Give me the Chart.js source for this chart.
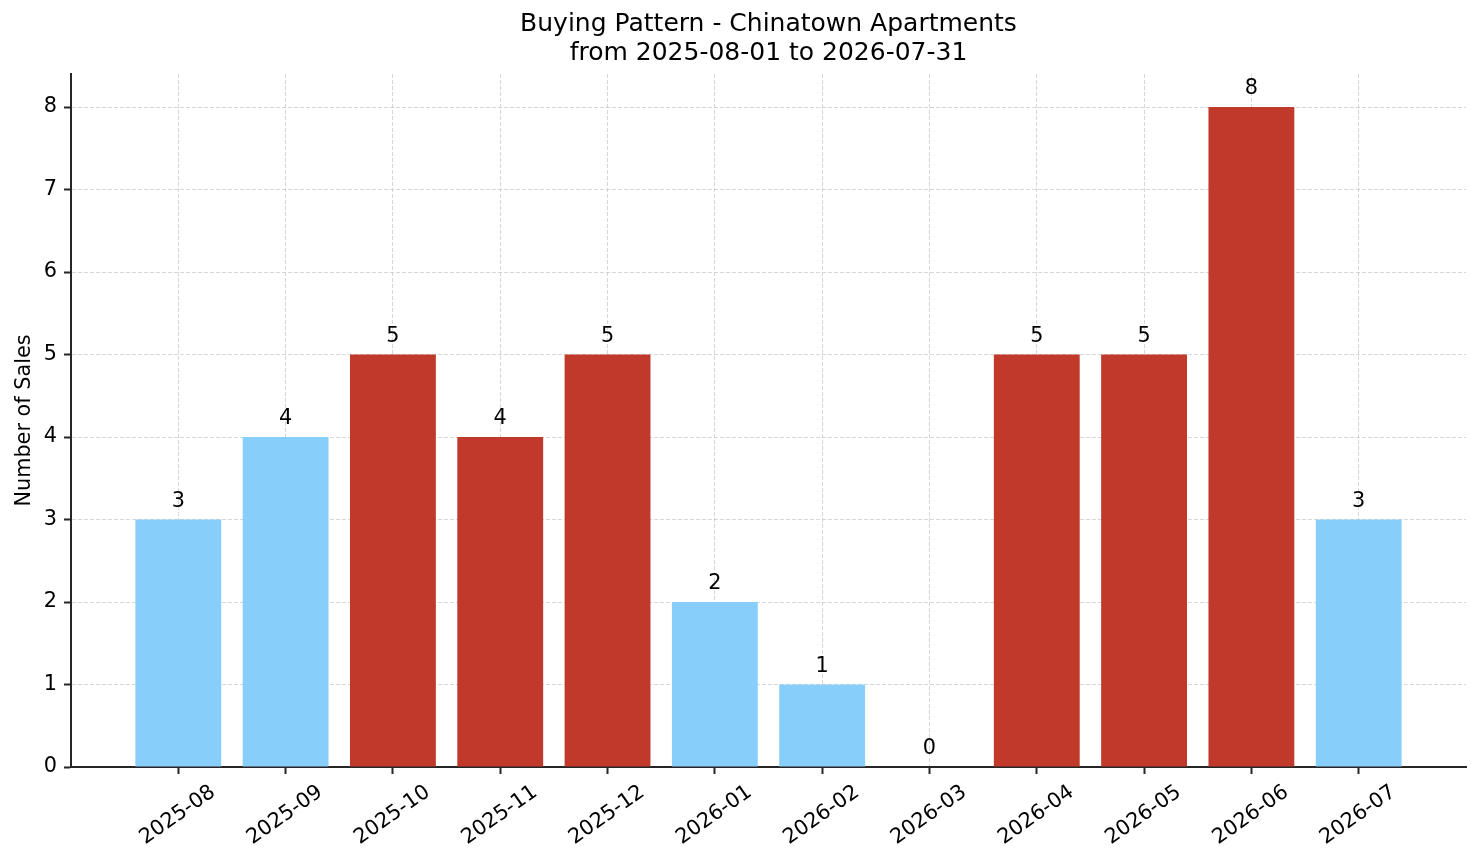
<!DOCTYPE html>
<html>
<head>
<meta charset="utf-8">
<script src="https://cdn.jsdelivr.net/npm/chart.js@4/dist/chart.umd.min.js"></script>
<style>
  html, body { margin: 0; padding: 0; background: #fff; }
  #wrap { width: 1481px; height: 863px; }
</style>
</head>
<body>
<div id="wrap"><canvas id="salesChart"></canvas></div>
<script>
const months = ['2025-08', '2025-09', '2025-10', '2025-11', '2025-12', '2026-01',
                '2026-02', '2026-03', '2026-04', '2026-05', '2026-06', '2026-07'];
const sales = [3, 4, 5, 4, 5, 2, 1, 0, 5, 5, 8, 3];
const titleLines = ['Buying Pattern - Chinatown Apartments', 'from 2025-08-01 to 2026-07-31'];

// colours per bar (red = busy month, light blue = quiet month)
const BLUE = '#87CEFA';
const RED = '#C0392B';
const barColors = [BLUE, BLUE, RED, RED, RED, BLUE, BLUE, BLUE, RED, RED, RED, BLUE];

const FONT = 'DejaVu Sans';
const AXIS = '#262626';
const GRID = 'rgba(176,176,176,0.5)';

// value printed above each bar
const barLabels = {
  id: 'barLabels',
  afterDraw(chart) {
    const ctx = chart.ctx;
    const meta = chart.getDatasetMeta(0);
    ctx.save();
    ctx.font = '20.8px "' + FONT + '"';
    ctx.fillStyle = '#000';
    ctx.textAlign = 'center';
    ctx.textBaseline = 'alphabetic';
    meta.data.forEach((bar, i) => {
      ctx.fillText(String(sales[i]), bar.x, bar.y - 13);
    });
    ctx.restore();
  }
};

const ctx = document.getElementById('salesChart').getContext('2d');
new Chart(ctx, {
  type: 'bar',
  data: {
    datasets: [
      {
        data: sales.map((v, i) => ({ x: i, y: v })),
        backgroundColor: barColors,
        borderWidth: 0,
        barPercentage: 0.8,
        categoryPercentage: 1.0,
      },
    ],
  },
  options: {
    responsive: true,
    maintainAspectRatio: false,
    animation: false,
    devicePixelRatio: 1,
    layout: { padding: { top: 0, right: 15, bottom: 0, left: 0 } },
    plugins: {
      legend: { display: false },
      tooltip: { enabled: false },
      title: {
        display: true,
        fullSize: false,
        text: titleLines,
        color: '#000',
        font: { family: FONT, size: 25, weight: 'normal', lineHeight: 1.16 },
        padding: { top: 10, bottom: 6 },
      },
    },
    scales: {
      x: {
        type: 'linear',
        min: -1,
        max: 12,
        offset: false,
        z: 1,
        afterBuildTicks(scale) {
          scale.ticks = months.map((m, i) => ({ value: i }));
        },
        afterFit(scale) { scale.height = 96; },
        grid: {
          display: true,
          offset: false,
          color: GRID,
          lineWidth: 1,
          tickColor: AXIS,
          tickWidth: 2,
          tickLength: 7,
        },
        border: { display: true, color: AXIS, width: 2, dash: [4, 2] },
        ticks: {
          stepSize: 1,
          includeBounds: false,
          autoSkip: false,
          minRotation: 35,
          maxRotation: 35,
          labelOffset: 35,
          padding: 6,
          color: '#000',
          font: { family: FONT, size: 20.8 },
          callback: (v) => months[v] || '',
        },
      },
      y: {
        min: 0,
        max: 8.4,
        z: 1,
        afterFit(scale) { scale.width = 71; },
        grid: {
          color: GRID,
          lineWidth: 1,
          tickColor: AXIS,
          tickWidth: 2,
          tickLength: 7,
        },
        border: { display: true, color: AXIS, width: 2, dash: [4, 2] },
        ticks: {
          stepSize: 1,
          includeBounds: false,
          padding: 7,
          color: '#000',
          font: { family: FONT, size: 20.8 },
        },
        title: {
          display: true,
          text: 'Number of Sales',
          color: '#000',
          font: { family: FONT, size: 20.8 },
          padding: { top: 12, bottom: 0 },
        },
      },
    },
  },
  plugins: [barLabels],
});
</script>
</body>
</html>
